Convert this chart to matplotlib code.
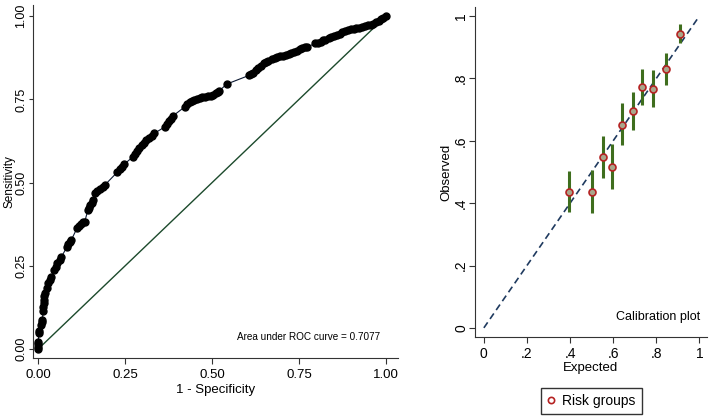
import numpy as np
import matplotlib
matplotlib.use("Agg")
import matplotlib.pyplot as plt

plt.rcParams['font.family'] = ['Liberation Sans', 'DejaVu Sans']

# ROC curve points (1 - specificity, sensitivity), in the clusters they form
roc_fpr = [0, 0, 0, 0, 0.002, 0.003,
           0.008, 0.01, 0.012,
           0.014, 0.015, 0.016, 0.017, 0.018, 0.019,
           0.024, 0.029, 0.033, 0.038,
           0.046, 0.05, 0.055,
           0.062, 0.067,
           0.082, 0.087, 0.091, 0.095,
           0.112, 0.117, 0.123, 0.129, 0.134,
           0.143, 0.146, 0.15, 0.154, 0.158,
           0.164, 0.17, 0.178, 0.185, 0.191,
           0.228, 0.234, 0.241, 0.248,
           0.272, 0.277, 0.283, 0.291, 0.298, 0.305, 0.31, 0.318, 0.326, 0.334,
           0.365, 0.37, 0.376, 0.382, 0.387,
           0.422, 0.428, 0.436, 0.443, 0.449, 0.457, 0.465, 0.472, 0.48, 0.488,
           0.496, 0.503, 0.51, 0.516, 0.52,
           0.542,
           0.606, 0.611, 0.618, 0.626, 0.633, 0.641, 0.649,
           0.655, 0.662,
           0.673, 0.68, 0.688, 0.696, 0.705, 0.713, 0.72, 0.728, 0.736, 0.744,
           0.752, 0.76, 0.768, 0.774,
           0.797, 0.805, 0.812, 0.82, 0.826,
           0.835, 0.843, 0.851, 0.859, 0.867, 0.875, 0.883, 0.891, 0.899, 0.907,
           0.915, 0.923, 0.931,
           0.94, 0.948, 0.956, 0.964,
           0.972, 0.979, 0.986, 0.993, 1.0]
roc_tpr = [0, 0.007, 0.015, 0.022, 0.047, 0.055,
           0.072, 0.08, 0.087,
           0.115, 0.125, 0.137, 0.148, 0.158, 0.167,
           0.182, 0.197, 0.207, 0.217,
           0.237, 0.245, 0.257,
           0.268, 0.277,
           0.306, 0.315, 0.321, 0.327,
           0.364, 0.37, 0.376, 0.382, 0.383,
           0.418, 0.425, 0.433, 0.44, 0.447,
           0.468, 0.474, 0.48, 0.486, 0.492,
           0.532, 0.54, 0.548, 0.556,
           0.577, 0.585, 0.594, 0.603, 0.612, 0.62, 0.628, 0.635, 0.641, 0.648,
           0.668, 0.677, 0.685, 0.692, 0.7,
           0.728, 0.735, 0.741, 0.746, 0.749, 0.752, 0.754, 0.756, 0.757, 0.759,
           0.761, 0.764, 0.768, 0.772, 0.775,
           0.796,
           0.822, 0.826, 0.83, 0.838, 0.845, 0.851, 0.858,
           0.862, 0.866,
           0.872, 0.874, 0.876, 0.879, 0.881, 0.883, 0.885, 0.888, 0.892, 0.896,
           0.9, 0.903, 0.906, 0.908,
           0.918, 0.921, 0.924, 0.928, 0.93,
           0.935, 0.938, 0.94, 0.944, 0.948, 0.952, 0.955, 0.958, 0.961, 0.963,
           0.965, 0.966, 0.967,
           0.972, 0.974, 0.975, 0.976,
           0.983, 0.987, 0.991, 0.995, 1.0]
auc_text = "Area under ROC curve = 0.7077"

# calibration: risk groups
cal_expected = [0.395, 0.503, 0.554, 0.595, 0.643, 0.692, 0.732, 0.785, 0.843, 0.911]
cal_observed = [0.436, 0.436, 0.549, 0.517, 0.652, 0.695, 0.773, 0.766, 0.830, 0.944]
cal_lo = [0.372, 0.367, 0.482, 0.444, 0.586, 0.634, 0.714, 0.707, 0.779, 0.913]
cal_hi = [0.504, 0.506, 0.615, 0.589, 0.720, 0.756, 0.832, 0.827, 0.882, 0.976]

roc_ticks = [0, 0.25, 0.5, 0.75, 1.0]
cal_ticks = [0, 0.2, 0.4, 0.6, 0.8, 1.0]
cal_labels = ['0', '.2', '.4', '.6', '.8', '1']

fig = plt.figure(figsize=(7.09, 4.18), dpi=100)

# ROC panel
ax1 = fig.add_axes([0.0465, 0.1435, 0.515, 0.844])
ax1.plot([0, 1], [0, 1], color='#1c4a2c', lw=1.0)
ax1.plot(roc_fpr, roc_tpr, color='#0d1a33', lw=0.8, marker='o', ms=5,
         mfc='black', mec='black')
ax1.set_xlim(-0.015, 1.035)
ax1.set_ylim(-0.027, 1.033)
ax1.set_xticks(roc_ticks)
ax1.set_yticks(roc_ticks)
ax1.set_xticklabels(['%.2f' % t for t in roc_ticks], fontsize=9.5)
ax1.set_yticklabels(['%.2f' % t for t in roc_ticks], fontsize=9, rotation=90, va='center')
ax1.set_xlabel('1 - Specificity', fontsize=9.5, labelpad=2)
ax1.set_ylabel('Sensitivity', fontsize=8.5, labelpad=0)
ax1.text(0.984, 0.035, auc_text, fontsize=7.2, ha='right', va='center')
ax1.tick_params(axis='x', pad=4, length=4)
ax1.tick_params(axis='y', pad=1, length=3)

# calibration panel
ax2 = fig.add_axes([0.670, 0.194, 0.327, 0.789])
ax2.plot([0, 1], [0, 1], color='#1f3a5f', lw=1.2, ls=(0, (4, 2.5)))
ax2.vlines(cal_expected, cal_lo, cal_hi, color='#3f6e1e', lw=2.2)
ax2.plot(cal_expected, cal_observed, ls='none', marker='o', ms=5,
         mfc='#a9a78c', mec='#b52222', mew=1.2, label='Risk groups')
ax2.set_xlim(-0.041, 1.035)
ax2.set_ylim(-0.029, 1.029)
ax2.set_xticks(cal_ticks)
ax2.set_yticks(cal_ticks)
ax2.set_xticklabels(cal_labels, fontsize=10)
ax2.set_yticklabels(cal_labels, fontsize=10, rotation=90, va='center')
ax2.set_xlabel('Expected', fontsize=9.5, labelpad=1)
ax2.set_ylabel('Observed', fontsize=9.5, labelpad=1)
ax2.text(1.005, 0.035, 'Calibration plot', fontsize=9, ha='right', va='center')
ax2.tick_params(axis='x', pad=3, length=4)
ax2.tick_params(axis='y', pad=1, length=4)

for ax in (ax1, ax2):
    ax.spines['top'].set_visible(False)
    ax.spines['right'].set_visible(False)
    ax.spines['left'].set_color('#333333')
    ax.spines['bottom'].set_color('#333333')
    ax.tick_params(direction='out', width=0.8, color='#333333')

leg_handle = plt.Line2D([], [], ls='none', marker='o', ms=4.5, mfc='white',
                        mec='#b52222', mew=1.2)
fig.legend([leg_handle], ['Risk groups'], loc='center', bbox_to_anchor=(0.834, 0.041),
           fontsize=10, frameon=True, fancybox=False, edgecolor='black',
           handlelength=0.6, handletextpad=0.5, borderpad=0.45)

fig.savefig('out.png', dpi=100)
